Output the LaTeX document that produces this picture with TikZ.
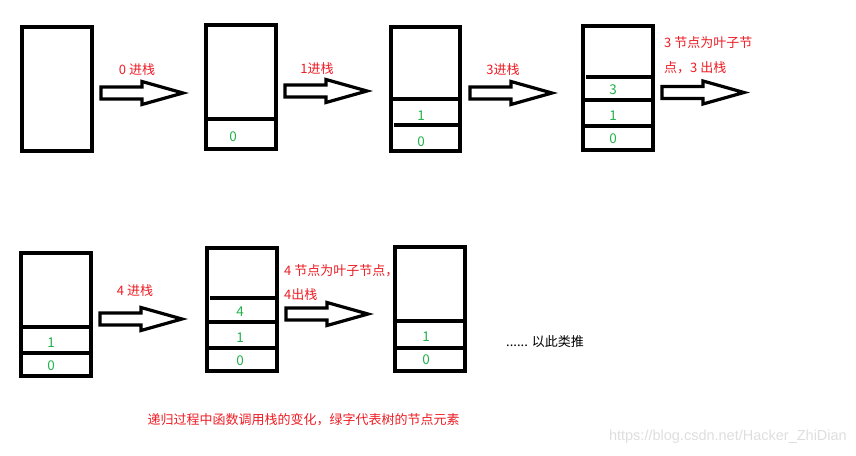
\documentclass[tikz,border=0pt]{standalone}
\usepackage{fontspec}
\setmainfont{Noto Sans CJK SC}
\newfontfamily\wmfont{Liberation Sans}
\definecolor{pred}{RGB}{237,28,36}
\definecolor{pgreen}{RGB}{34,177,76}
\definecolor{wmgray}{RGB}{222,222,222}
\begin{document}
\begin{tikzpicture}[x=1pt,y=-1pt,
  stackbox/.style={draw=black,line width=3.3pt,rectangle,inner sep=0pt},
  divider/.style={draw=black,line width=3.3pt},
  num/.style={text=pgreen,font=\fontsize{13.5}{16}\selectfont,inner sep=0pt},
  lbl/.style={text=pred,font=\fontsize{13}{15}\selectfont,inner sep=0pt},
  barrow/.pic={\draw[line width=3.2pt,line join=miter] (0,-6) -- (41,-6) -- (41,-11.5) -- (82,0) -- (41,11.5) -- (41,6) -- (0,6) -- cycle;}
]
\useasboundingbox (0,0) rectangle (856,455);
% ---- row 1 ----
% stack 1
\node[stackbox,minimum width=70pt,minimum height=124pt] (s1) at (57,89) {};
% stack 2
\node[stackbox,minimum width=70pt,minimum height=124pt] (s2) at (241,87) {};
\draw[divider] (206,119) -- (276,119);
\node[num] (s2n0) at (233,137) {0};
% stack 3
\node[stackbox,minimum width=69pt,minimum height=124pt] (s3) at (425.5,89) {};
\draw[divider] (391,99) -- (460,99);
\draw[divider] (394,125) -- (460,125);
\node[num] (s3n1) at (421,116) {1};
\node[num] (s3n0) at (421,142) {0};
% stack 4
\node[stackbox,minimum width=70pt,minimum height=124pt] (s4) at (618,88) {};
\draw[divider] (586,77) -- (653,77);
\draw[divider] (583,100) -- (653,100);
\draw[divider] (583,126) -- (653,126);
\node[num] (s4n3) at (613,90) {3};
\node[num] (s4n1) at (613,116) {1};
\node[num] (s4n0) at (613,139) {0};
% arrows row 1
\pic at (101,93) {barrow};
\pic at (285,91) {barrow};
\pic at (470,93) {barrow};
\pic at (662,92.5) {barrow};
\node[lbl] (l1) at (137,70) {0 进栈};
\node[lbl] (l2) at (317,69) {1进栈};
\node[lbl] (l3) at (503,70) {3进栈};
\node[lbl,anchor=west] (l4a) at (664,43) {3 节点为叶子节};
\node[lbl,anchor=west] (l4b) at (664,68) {点，3 出栈};
% ---- row 2 ----
% stack 5
\node[stackbox,minimum width=70pt,minimum height=123pt] (s5) at (56,314.5) {};
\draw[divider] (21,327) -- (91,327);
\draw[divider] (21,353) -- (91,353);
\node[num] (s5n1) at (51,343) {1};
\node[num] (s5n0) at (51,366) {0};
% stack 6
\node[stackbox,minimum width=70pt,minimum height=123pt] (s6) at (242,309.5) {};
\draw[divider] (210,298) -- (277,298);
\draw[divider] (207,322) -- (277,322);
\draw[divider] (207,348) -- (277,348);
\node[num] (s6n4) at (240,312) {4};
\node[num] (s6n1) at (240,338) {1};
\node[num] (s6n0) at (240,361) {0};
% stack 7
\node[stackbox,minimum width=70pt,minimum height=124pt] (s7) at (430,309) {};
\draw[divider] (395,321) -- (465,321);
\draw[divider] (395,348) -- (465,348);
\node[num] (s7n1) at (426,337) {1};
\node[num] (s7n0) at (426,360) {0};
% arrows row 2
\pic at (100,319) {barrow};
\pic at (286,314) {barrow};
\node[lbl] (l5) at (135,291) {4 进栈};
\node[lbl,anchor=west] (l6a) at (284,271) {4 节点为叶子节点，};
\node[lbl,anchor=west] (l6b) at (284,295) {4出栈};
% etc
\node[anchor=west,inner sep=0pt,font=\fontsize{13}{15}\selectfont] (etc) at (506,342) {...... 以此类推};
\node[lbl] (cap) at (303.5,420) {递归过程中函数调用栈的变化，绿字代表树的节点元素};
\node[anchor=east,inner sep=0pt,text=wmgray,font=\wmfont\fontsize{14.5}{16}\selectfont] (wm) at (847,437) {https://blog.csdn.net/Hacker\_ZhiDian};
\end{tikzpicture}
\end{document}
